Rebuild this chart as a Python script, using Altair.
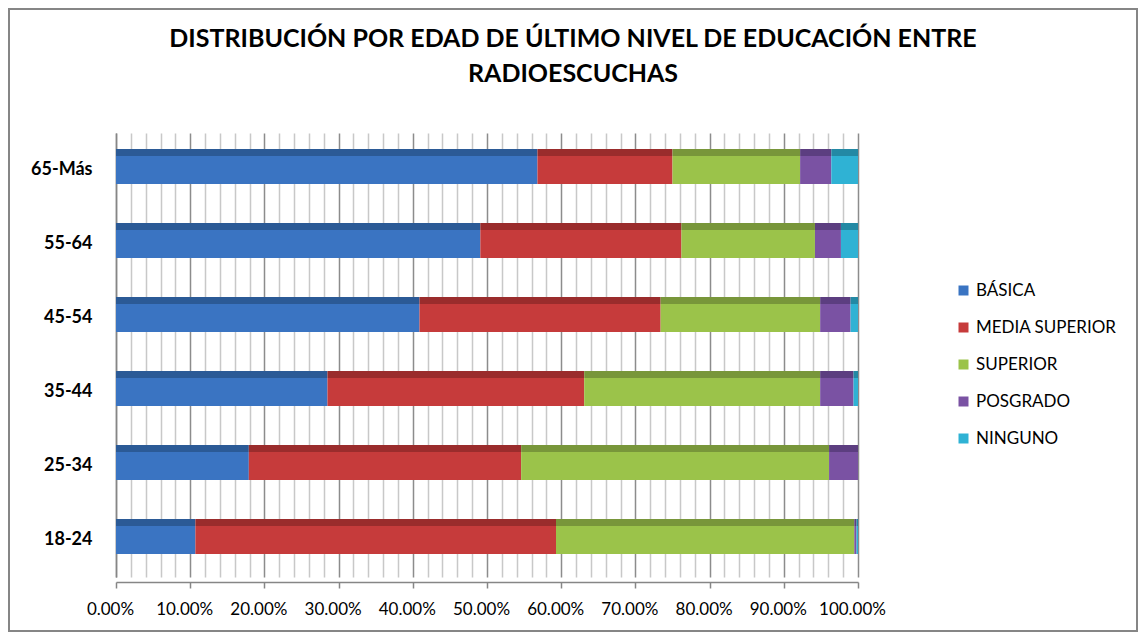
import pandas as pd
import altair as alt

ages = ["65-Más", "55-64", "45-54", "35-44", "25-34", "18-24"]
levels = ["BÁSICA", "MEDIA SUPERIOR", "SUPERIOR", "POSGRADO", "NINGUNO"]

# percent of each age group
basica = [56.8, 49.1, 40.9, 28.5, 17.9, 10.7]
media_superior = [18.2, 27.1, 32.5, 34.6, 36.7, 48.6]
superior = [17.2, 18.0, 21.5, 31.8, 41.5, 40.2]
posgrado = [4.2, 3.5, 4.1, 4.5, 3.9, 0.3]
ninguno = [3.6, 2.3, 1.0, 0.6, 0.0, 0.2]

front_colors = ["#3A74C2", "#C63B3B", "#9BC34A", "#7A52A3", "#2FB2D4"]
top_colors = ["#2B5A96", "#9A2C2C", "#78963A", "#5C3E80", "#2389A4"]

series = [basica, media_superior, superior, posgrado, ninguno]
df = pd.DataFrame(
    [
        {"edad": a, "nivel": lvl, "orden": i, "valor": vals[j] / 100}
        for i, (lvl, vals) in enumerate(zip(levels, series))
        for j, a in enumerate(ages)
    ]
)

grid_ticks = [i / 50 for i in range(51)]
major = "round(datum.value * 100) % 10 === 0"

x_enc = alt.X(
    "valor:Q",
    stack="zero",
    scale=alt.Scale(domain=[0, 1], nice=False),
    axis=alt.Axis(
        title=None,
        values=grid_ticks,
        format=".2%",
        labelExpr=f"{major} ? format(datum.value, '.2%') : ''",
        labelFlush=False,
        labelOverlap=False,
        labelFont="Lato",
        labelFontSize=17,
        labelColor="#000000",
        labelPadding=13,
        labelOffset=-6,
        grid=True,
        gridColor={"condition": {"test": major, "value": "#8C8C8C"}, "value": "#C8C8C8"},
        gridWidth=1.5,
        ticks=True,
        tickSize=6,
        tickColor="#868686",
        tickWidth=1.5,
        tickOpacity={"condition": {"test": major, "value": 1}, "value": 0},
        domainColor="#868686",
        domainWidth=1.5,
        offset=5,
    ),
)

y_enc = alt.Y(
    "edad:N",
    sort=ages,
    scale=alt.Scale(paddingInner=0, paddingOuter=0),
    axis=alt.Axis(
        title=None,
        labelFont="Lato",
        labelFontWeight="bold",
        labelFontSize=18,
        labelColor="#000000",
        labelPadding=24,
        ticks=False,
        domainColor="#868686",
        domainWidth=1.5,
    ),
)

front = alt.Chart(df).mark_bar(size=28).encode(
    x=x_enc,
    y=y_enc,
    color=alt.Color(
        "nivel:N",
        scale=alt.Scale(domain=levels, range=front_colors),
        legend=alt.Legend(
            title=None,
            orient="none",
            legendX=839,
            legendY=149,
            symbolType="square",
            symbolSize=100,
            symbolStrokeWidth=0,
            labelFont="Lato",
            labelFontSize=17,
            labelColor="#000000",
            labelOffset=4,
            rowPadding=19,
            padding=0,
        ),
    ),
    order=alt.Order("orden:Q"),
)

top = alt.Chart(df).mark_bar(size=7, yOffset=-17.5).encode(
    x=x_enc,
    y=y_enc,
    color=alt.Color(
        "nivel:N", scale=alt.Scale(domain=levels, range=top_colors), legend=None
    ),
    order=alt.Order("orden:Q"),
)

frame = (
    alt.Chart(pd.DataFrame({"k": [0]}))
    .mark_rect(fillOpacity=0, stroke="#868686", strokeWidth=2)
    .encode(x=alt.value(-107), x2=alt.value(1021), y=alt.value(-124), y2=alt.value(498))
)

chart = (
    alt.layer(front, top, frame)
    .resolve_scale(color="independent")
    .properties(
        width=742,
        height=444,
        padding={"left": 108, "top": 125, "right": 280, "bottom": 55},
        autosize=alt.AutoSizeParams(type="none"),
        background="white",
        title=alt.TitleParams(
            ["DISTRIBUCIÓN POR EDAD DE ÚLTIMO NIVEL DE EDUCACIÓN ENTRE", "RADIOESCUCHAS"],
            font="Lato",
            fontSize=25,
            fontWeight="bold",
            lineHeight=35,
            anchor="middle",
            frame="group",
            dx=86,
            dy=79,
            offset=0,
            color="#000000",
        ),
    )
    .configure_view(stroke=None)
)

chart.save("out.html", embed_options={"renderer": "svg", "actions": False})
